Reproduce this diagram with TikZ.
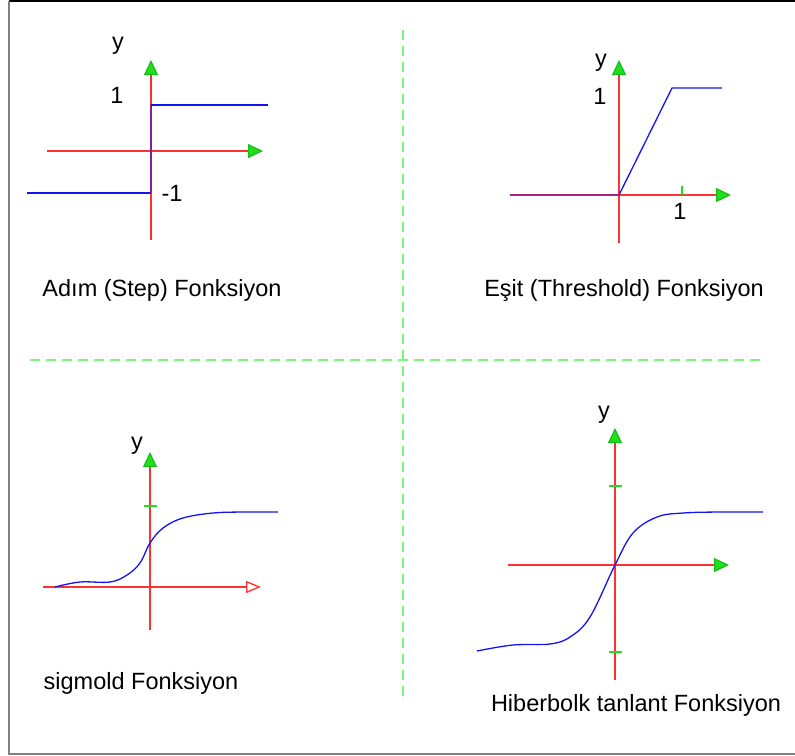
\documentclass[tikz,border=0pt]{standalone}
\usepackage{fontspec}
\setmainfont{Liberation Sans}
\usetikzlibrary{arrows.meta}
\definecolor{axred}{RGB}{255,50,50}
\definecolor{curveblue}{RGB}{20,20,240}
\definecolor{dashgreen}{RGB}{120,245,120}
\definecolor{tipgreen}{RGB}{30,225,30}
\tikzset{
  axis/.style={draw=axred, line width=1.3pt},
  gtip/.style={-{Triangle[length=15pt,width=14pt,fill=tipgreen,color=tipgreen!85!black]}},
  rtip/.style={-{Triangle[length=15pt,width=12pt,open,fill=white,color=axred]}},
  curve/.style={draw=curveblue, line width=1.3pt},
  tick/.style={draw=tipgreen, line width=1.3pt},
  sep/.style={draw=dashgreen, line width=1.6pt, dash pattern=on 10pt off 6pt},
  lbl/.style={font=\fontsize{23.5}{28}\selectfont, inner sep=0pt},
}
\begin{document}
\begin{tikzpicture}[x=1pt,y=-1pt]
\useasboundingbox (0,0) rectangle (795,755);
\draw[black, line width=1.2pt] (9,1) -- (795,1);
\draw[gray, line width=1.8pt] (9,1) -- (9,754) -- (795,754);
% separators
\draw[sep] (403,30) -- (403,700);
\draw[sep] (30,360) -- (760,360);

% ---- Panel 1: step
\coordinate (s-o) at (151,151);
\coordinate (s-yb) at (151,240);
\coordinate (s-yt) at (151,60);
\coordinate (s-xl) at (47,151);
\coordinate (s-xr) at (263,151);
\draw[axis] (s-yb) -- (s-o);
\draw[axis,gtip] (s-o) -- (s-yt);
\draw[axis,gtip] (s-xl) -- (s-xr);
\coordinate (s-a) at (27,193);
\coordinate (s-b) at (151,193);
\coordinate (s-c) at (151,105);
\coordinate (s-d) at (268,105);
\draw[curve] (s-a) -- (s-b);
\draw[draw=curveblue!55!axred, line width=1.3pt] (s-b) -- (s-c);
\draw[curve] (s-c) -- (s-d);
\node[lbl] (s-y) at (118,46) {y};
\node[lbl] (s-one) at (117,95) {1};
\node[lbl] (s-mone) at (172,193) {-1};
\node[lbl] (s-title) at (162,290) {Adım (Step) Fonksiyon};

% ---- Panel 2: threshold
\coordinate (t-o) at (619,195);
\coordinate (t-yb) at (619,243);
\coordinate (t-yt) at (619,60);
\coordinate (t-xl) at (510,195);
\coordinate (t-xr) at (731,195);
\draw[axis] (t-yb) -- (t-o);
\draw[axis,gtip] (t-o) -- (t-yt);
\draw[axis,gtip] (t-xl) -- (t-xr);
\draw[draw=curveblue!40!axred, line width=1.3pt] (t-xl) -- (t-o);
\coordinate (t-k) at (672,88);
\coordinate (t-e) at (722,88);
\draw[curve] (t-o) -- (t-k) -- (t-e);
\coordinate (t-ta) at (682,186);
\coordinate (t-tb) at (682,195);
\draw[tick] (t-ta) -- (t-tb);
\node[lbl] (t-y) at (601,63) {y};
\node[lbl] (t-one) at (600,96) {1};
\node[lbl] (t-xone) at (680,211) {1};
\node[lbl] (t-title) at (624,290) {Eşit (Threshold) Fonksiyon};

% ---- Panel 3: sigmoid
\coordinate (g-o) at (150,587);
\coordinate (g-yb) at (150,630);
\coordinate (g-yt) at (150,452);
\coordinate (g-xl) at (43,587);
\coordinate (g-xr) at (261,587);
\draw[axis] (g-yb) -- (g-o);
\draw[axis,gtip] (g-o) -- (g-yt);
\draw[axis,rtip] (g-xl) -- (g-xr);
\coordinate (g-ta) at (144,506);
\coordinate (g-tb) at (157,506);
\draw[tick] (g-ta) -- (g-tb);
\draw[curve] plot[smooth, tension=0.6] coordinates {(55,587) (80,582) (110,582) (127,575) (140,563) (150,543) (163,528) (183,518) (213,513) (245,512) (278,512)};
\node[lbl] (g-y) at (137,446) {y};
\node[lbl] (g-title) at (141,683) {sigmold Fonksiyon};

% ---- Panel 4: tanh
\coordinate (h-o) at (615,565);
\coordinate (h-yb) at (615,680);
\coordinate (h-yt) at (615,428);
\coordinate (h-xl) at (508,565);
\coordinate (h-xr) at (729,565);
\draw[axis] (h-yb) -- (h-o);
\draw[axis,gtip] (h-o) -- (h-yt);
\draw[axis,gtip] (h-xl) -- (h-xr);
\coordinate (h-ta) at (609,486);
\coordinate (h-tb) at (622,486);
\coordinate (h-tc) at (609,652);
\coordinate (h-td) at (622,652);
\draw[tick] (h-ta) -- (h-tb);
\draw[tick] (h-tc) -- (h-td);
\draw[curve] plot[smooth, tension=0.6] coordinates {(477,651) (513,645) (550,644) (570,637) (590,617) (615,565) (633,533) (657,517) (683,513) (720,512) (763,512)};
\node[lbl] (h-y) at (604,415) {y};
\node[lbl] (h-title) at (636,705) {Hiberbolk tanlant Fonksiyon};
\end{tikzpicture}
\end{document}
